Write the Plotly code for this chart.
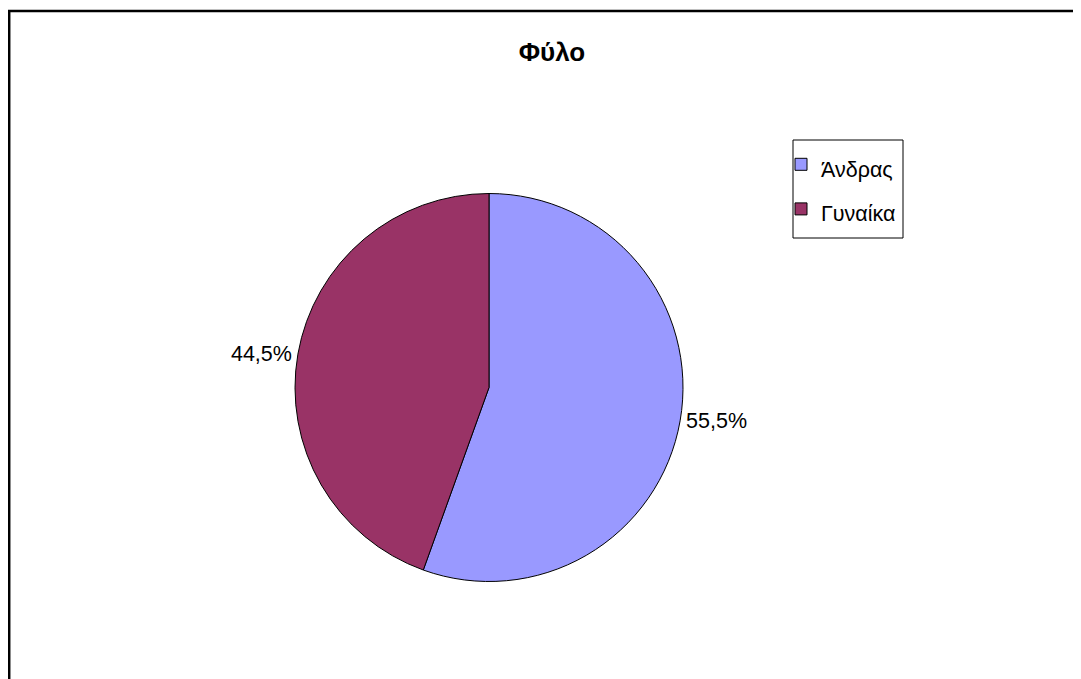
import plotly.graph_objects as go

labels = ["Άνδρας", "Γυναίκα"]
values = [55.5, 44.5]
colors = ["#9999FF", "#993366"]
title_text = "Φύλο"

W, H = 1081, 679
cx, cy, r = 481, 379.5, 194  # pie centre / radius in paper pixels (from top-left)

legend_labels = ['<span style="font-size:21.5px">' + s + '</span>' for s in labels]

fig = go.Figure(go.Pie(
    labels=legend_labels,
    values=values,
    sort=False,
    direction="clockwise",
    rotation=0,
    marker=dict(colors=colors, line=dict(color="black", width=1)),
    textposition="outside",
    texttemplate="%{percent:.1%}",
    textfont=dict(family="Liberation Sans, Arial", size=21.5, color="black"),
    domain=dict(x=[(cx - r) / W, (cx + r) / W], y=[(H - cy - r) / H, (H - cy + r) / H]),
    hoverinfo="label+percent",
))

fig.update_layout(
    width=W, height=H,
    margin=dict(l=0, r=0, t=0, b=0),
    paper_bgcolor="white",
    separators=",.",
    font=dict(family="Liberation Sans, Arial", color="black"),
    title=dict(text="<b>" + title_text + "</b>", x=544 / W, y=1 - 44 / H,
               xanchor="center", yanchor="middle",
               font=dict(size=26, family="Liberation Sans, Arial", color="black")),
    showlegend=True,
    legend=dict(x=773 / W, y=1 - 129 / H, xanchor="left", yanchor="top",
                borderwidth=0, bgcolor="rgba(0,0,0,0)",
                font=dict(size=32, family="Liberation Sans, Arial", color="black")),
    shapes=[
        dict(type="rect", xref="paper", yref="paper",
             x0=1.2 / W, x1=1.05, y0=-0.05, y1=1 - 3 / H,
             line=dict(color="black", width=2.5), fillcolor="rgba(0,0,0,0)"),
        dict(type="rect", xref="paper", yref="paper",
             x0=785 / W, x1=895 / W, y0=1 - 230 / H, y1=1 - 132 / H,
             line=dict(color="black", width=1), fillcolor="rgba(0,0,0,0)", layer="below"),
    ],
)

fig.write_html("out.html")
